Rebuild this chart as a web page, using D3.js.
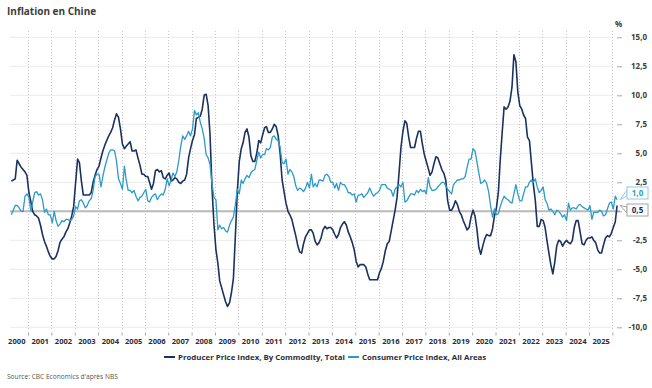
<!DOCTYPE html>
<html>
<head>
<meta charset="utf-8">
<script src="https://cdn.jsdelivr.net/npm/d3@7"></script>
<style>
  body { margin: 0; background: #fff; }
  svg { display: block; font-family: "Open Sans", sans-serif; }
</style>
</head>
<body>
<svg id="chart" width="652" height="388"></svg>
<script>
// monthly YoY %, first value = April 2000, last = March 2026
var startMonth = "2000-04"

var ppi = [
  2.6, 2.7, 2.8, 4.4, 4.1, 3.8, 3.6, 3.4, 3.1,
  1.6, 0.8, 0.0, -0.3, -0.4, -0.6, -1.2, -2.0, -2.6, -3.0, -3.5, -3.9,
  -4.1, -4.1, -3.9, -3.4, -2.7, -2.4, -2.2, -1.8, -1.5, -1.0, -0.4, 0.4,
  2.5, 4.5, 4.2, 2.6, 1.4, 1.4, 1.4, 1.4, 1.6, 2.5, 3.1, 3.6,
  3.9, 4.6, 5.2, 5.7, 6.1, 6.5, 6.8, 7.2, 7.9, 8.4, 8.1, 7.1,
  5.8, 5.4, 5.6, 5.8, 6.0, 5.2, 5.2, 5.3, 4.6, 4.0, 3.2, 3.2,
  3.0, 3.0, 2.5, 1.9, 2.4, 3.5, 3.6, 3.4, 3.5, 2.9, 2.8, 3.1,
  3.3, 2.6, 2.7, 2.9, 2.8, 2.5, 2.4, 2.6, 2.7, 3.2, 4.6, 5.4,
  6.1, 6.6, 8.0, 8.1, 8.2, 8.8, 10.0, 10.1, 9.1, 6.6, 2.0, -1.1,
  -3.3, -4.5, -6.0, -6.6, -7.2, -7.8, -8.2, -7.9, -7.0, -5.8, -2.1, 1.7,
  4.3, 5.4, 5.9, 6.8, 7.1, 6.4, 4.8, 4.3, 4.3, 5.0, 6.1, 5.9,
  6.6, 7.2, 7.3, 6.8, 6.8, 7.1, 7.5, 7.3, 6.5, 5.0, 2.7, 1.7,
  0.7, 0.0, -0.3, -0.7, -1.4, -2.1, -2.9, -3.5, -3.6, -2.8, -2.2, -1.9,
  -1.6, -1.6, -1.9, -2.6, -2.9, -2.7, -2.3, -1.6, -1.3, -1.5, -1.4, -1.4,
  -1.6, -2.0, -2.3, -2.0, -1.4, -1.1, -0.9, -1.2, -1.8, -2.2, -2.7, -3.3,
  -4.3, -4.8, -4.6, -4.6, -4.6, -4.8, -5.4, -5.9, -5.9, -5.9, -5.9, -5.9,
  -5.3, -4.9, -4.3, -3.4, -2.8, -2.6, -1.7, -0.8, 0.1, 1.2, 3.3, 5.5,
  6.9, 7.8, 7.6, 6.4, 5.5, 5.5, 5.5, 6.3, 6.9, 6.9, 5.8, 4.9,
  4.3, 3.7, 3.1, 3.4, 4.1, 4.7, 4.6, 4.1, 3.6, 3.3, 2.7, 0.9,
  0.1, 0.1, 0.4, 0.9, 0.6, 0.0, -0.3, -0.8, -1.2, -1.6, -1.4, -0.5,
  0.1, -0.4, -1.5, -3.1, -3.7, -3.0, -2.4, -2.0, -2.1, -2.1, -1.5, -0.4,
  0.3, 1.7, 4.4, 6.8, 9.0, 8.8, 9.0, 9.5, 10.7, 13.5, 12.9, 10.3,
  9.1, 8.8, 8.3, 8.0, 6.4, 6.1, 4.2, 2.3, 0.9, -1.3, -1.3, -0.7,
  -0.8, -1.4, -2.5, -3.6, -4.6, -5.4, -4.4, -3.0, -2.5, -2.6, -3.0, -2.7,
  -2.5, -2.7, -2.8, -2.5, -1.4, -0.8, -0.8, -1.8, -2.8, -2.9, -2.5, -2.3,
  -2.3, -2.2, -2.5, -2.7, -3.3, -3.6, -3.6, -2.9, -2.3, -2.1, -2.2, -1.9,
  -1.4, -0.9, 0.5
]

var cpi = [
  -0.3, 0.1, 0.5, 0.5, 0.3, 0.0, 0.0, 1.3, 1.5,
  1.2, 0.0, 0.8, 1.6, 1.7, 1.4, 1.5, 1.0, -0.1, 0.2, -0.3, -0.3,
  -1.0, 0.0, -0.8, -1.3, -1.1, -0.8, -0.9, -0.7, -0.7, -0.8, -0.7, -0.4,
  0.4, 0.2, 0.9, 1.0, 0.7, 0.3, 0.5, 0.9, 1.1, 1.8, 3.0, 3.2,
  3.2, 2.1, 3.0, 3.8, 4.4, 5.0, 5.3, 5.3, 5.2, 4.3, 2.8, 2.4,
  1.9, 3.9, 2.7, 1.8, 1.8, 1.6, 1.8, 1.3, 0.9, 1.2, 1.3, 1.6,
  1.9, 0.9, 0.8, 1.2, 1.4, 1.5, 1.0, 1.3, 1.5, 1.4, 1.9, 2.8,
  2.2, 2.7, 3.3, 3.0, 3.4, 4.4, 5.6, 6.5, 6.2, 6.5, 6.9, 6.5,
  7.1, 8.7, 8.3, 8.5, 7.7, 7.1, 6.3, 4.9, 4.6, 4.0, 2.4, 1.2,
  1.0, -1.6, -1.2, -1.5, -1.4, -1.7, -1.8, -1.2, -0.8, -0.5, 0.6, 1.9,
  1.5, 2.7, 2.4, 2.8, 3.1, 2.9, 3.3, 3.5, 3.6, 4.4, 5.1, 4.6,
  4.9, 4.9, 5.4, 5.3, 5.5, 6.4, 6.5, 6.2, 6.1, 5.5, 4.2, 4.1,
  4.5, 3.2, 3.6, 3.4, 3.0, 2.2, 1.8, 2.0, 1.9, 1.7, 2.0, 2.5,
  2.0, 3.2, 2.1, 2.4, 2.1, 2.7, 2.7, 2.6, 3.1, 3.2, 3.0, 2.5,
  2.5, 2.0, 2.4, 1.8, 2.5, 2.3, 2.3, 2.0, 1.6, 1.6, 1.4, 1.5,
  0.8, 1.4, 1.4, 1.5, 1.2, 1.4, 1.6, 2.0, 1.6, 1.3, 1.5, 1.6,
  1.8, 2.3, 2.3, 2.3, 2.0, 1.9, 1.8, 1.3, 1.9, 2.1, 2.3, 2.1,
  2.5, 0.8, 0.9, 1.2, 1.5, 1.5, 1.4, 1.8, 1.6, 1.9, 1.7, 1.8,
  1.5, 2.9, 2.1, 1.8, 1.8, 1.9, 2.1, 2.3, 2.5, 2.5, 2.2, 1.9,
  1.7, 1.5, 2.3, 2.5, 2.7, 2.7, 2.8, 2.8, 3.0, 3.8, 4.5, 4.5,
  5.4, 5.2, 4.3, 3.3, 2.4, 2.5, 2.7, 2.4, 1.7, 0.5, -0.5, 0.2,
  -0.3, -0.2, 0.4, 0.9, 1.3, 1.1, 1.0, 0.8, 0.7, 1.5, 2.3, 1.5,
  0.9, 0.9, 1.5, 2.1, 2.1, 2.5, 2.7, 2.5, 2.8, 2.1, 1.6, 1.8,
  2.1, 1.0, 0.7, 0.1, 0.2, 0.0, -0.3, 0.1, 0.0, -0.2, -0.5, -0.3,
  -0.8, 0.7, 0.1, 0.3, 0.3, 0.2, 0.5, 0.6, 0.4, 0.3, 0.2, 0.1,
  0.5, -0.7, -0.1, -0.1, -0.1, 0.1, 0.0, -0.4, -0.3, 0.2, 0.7, 0.8,
  0.2, 1.3, 1.0
]

var yTicks = [-10, -7.5, -5, -2.5, 0, 2.5, 5, 7.5, 10, 12.5, 15]
var yearLabels = d3.range(2000, 2026)
var seriesNames = ["Producer Price Index, By Commodity, Total", "Consumer Price Index, All Areas"]
var seriesColors = ["#1b3160", "#2b9bc9"]
var labelBorders = ["#a3a3a3", "#8ccbe6"]

var svg = d3.select("#chart")
var fr = d3.formatLocale({ decimal: ",", thousands: " ", grouping: [3], currency: ["", " €"], minus: "-" })
var fmt = fr.format(".1f")

var start = d3.timeParse("%Y-%m")(startMonth)
function toPoints(values) {
  return values.map(function(v, i) {
    return { date: d3.timeDay.offset(d3.timeMonth.offset(start, i), 14), value: v }
  })
}
var series = [toPoints(ppi), toPoints(cpi)]

var x = d3.scaleTime()
  .domain([new Date(2000, 0, 1), new Date(2026, 0, 1)])
  .range([4.6, 612.4])
var y = d3.scaleLinear().domain([-10, 15]).range([327.3, 37.3])

// title
svg.append("text")
  .attr("x", 7).attr("y", 14.5)
  .attr("font-size", 10).attr("font-weight", 700)
  .attr("fill", "#3d3d3d")
  .text("Inflation en Chine")

// horizontal grid
svg.append("g").selectAll("line")
  .data(yTicks.filter(function(t) { return t !== 0 }))
  .join("line")
  .attr("x1", 10).attr("x2", 613)
  .attr("y1", function(d) { return y(d) }).attr("y2", function(d) { return y(d) })
  .attr("stroke", "#ebebeb").attr("stroke-width", 1)

// vertical dotted year lines
var yearBounds = d3.range(2001, 2027).map(function(yr) { return new Date(yr, 0, 1) })
svg.append("g").selectAll("line")
  .data(yearBounds)
  .join("line")
  .attr("x1", function(d) { return Math.round(x(d)) + 0.5 }).attr("x2", function(d) { return Math.round(x(d)) + 0.5 })
  .attr("y1", 31).attr("y2", 330)
  .attr("stroke", "#c6c6c6").attr("stroke-width", 1)
  .attr("stroke-dasharray", "1,2")

// zero line
svg.append("line")
  .attr("x1", 10).attr("x2", 620)
  .attr("y1", y(0)).attr("y2", y(0))
  .attr("stroke", "#b9b9b9").attr("stroke-width", 2)

// y axis on the right (0,0 sits under the last-value box, so no label there)
var yAxis = svg.append("g")
  .attr("transform", "translate(617,0)")
  .call(d3.axisRight(y).tickValues(yTicks).tickSize(5)
    .tickFormat(function(d) { return d === 0 ? "" : fmt(d) }))
yAxis.select(".domain").remove()
yAxis.selectAll(".tick line").attr("stroke", "#a8a8a8")
yAxis.selectAll(".tick text")
  .attr("x", 30).attr("text-anchor", "end")
  .attr("font-family", "Open Sans").attr("font-size", 8).attr("font-weight", 700)
  .attr("fill", "#3d3d3d")

svg.append("text")
  .attr("x", 618.5).attr("y", 26.5)
  .attr("text-anchor", "middle")
  .attr("font-size", 8).attr("font-weight", 700).attr("fill", "#3d3d3d")
  .text("%")

// x axis: ticks at year boundaries, labels mid-year
var xTickAxis = svg.append("g")
  .attr("transform", "translate(0,332.5)")
  .call(d3.axisBottom(x).tickValues(yearBounds).tickSize(3).tickFormat(""))
xTickAxis.select(".domain").remove()
xTickAxis.selectAll(".tick line").attr("stroke", "#a8a8a8")

var xLabelAxis = svg.append("g")
  .attr("transform", "translate(0,334)")
  .call(d3.axisBottom(x)
    .tickValues(yearLabels.map(function(yr) { return new Date(yr, 6, 2) }))
    .tickSize(0)
    .tickFormat(d3.timeFormat("%Y")))
xLabelAxis.select(".domain").remove()
xLabelAxis.selectAll(".tick text")
  .attr("dy", "0.71em").attr("y", 5)
  .attr("font-family", "Open Sans").attr("font-size", 7.6).attr("font-weight", 700)
  .attr("fill", "#2d2d3a")

// lines
var line = d3.line()
  .x(function(d) { return x(d.date) })
  .y(function(d) { return y(d.value) })

svg.append("g").selectAll("path")
  .data(series)
  .join("path")
  .attr("d", line)
  .attr("fill", "none")
  .attr("stroke", function(d, i) { return seriesColors[i] })
  .attr("stroke-width", function(d, i) { return i == 0 ? 1.6 : 1.3 })
  .attr("stroke-linejoin", "round")

// last value labels
var lastLabels = [
  { value: ppi[ppi.length - 1], boxY: 204, color: seriesColors[0], border: labelBorders[0] },
  { value: cpi[cpi.length - 1], boxY: 187, color: seriesColors[1], border: labelBorders[1] }
]
var lastX = x(series[0][series[0].length - 1].date)
var lbl = svg.append("g").selectAll("g")
  .data(lastLabels)
  .join("g")

lbl.append("path")
  .attr("d", function(d) {
    var py = y(d.value)
    var mid = d.boxY + 6
    return "M" + (lastX + 3) + "," + py + "L627," + (mid - 3) + "L627," + (mid + 3) + "Z"
  })
  .attr("fill", "#fff")
  .attr("stroke", function(d) { return d.border })
  .attr("stroke-width", 1)

lbl.append("rect")
  .attr("x", 627).attr("y", function(d) { return d.boxY })
  .attr("width", 21).attr("height", 12)
  .attr("fill", "#fff")
  .attr("stroke", function(d) { return d.border })
  .attr("stroke-width", 1)

lbl.append("text")
  .attr("x", 637.5).attr("y", function(d) { return d.boxY + 6 })
  .attr("dy", "0.35em").attr("text-anchor", "middle")
  .attr("font-size", 8).attr("font-weight", 700)
  .attr("fill", function(d) { return d.color })
  .text(function(d) { return fmt(d.value) })

// legend
var legend = svg.append("g").attr("transform", "translate(0,357)")
var legendX = [164, 348]
seriesNames.forEach(function(name, i) {
  var g = legend.append("g").attr("transform", "translate(" + legendX[i] + ",0)")
  g.append("line")
    .attr("x1", 0).attr("x2", 11)
    .attr("stroke", seriesColors[i]).attr("stroke-width", 2)
  g.append("text")
    .attr("x", 14).attr("dy", "0.35em")
    .attr("font-size", 7.85).attr("font-weight", 700).attr("fill", "#2d2d3a")
    .text(name)
})

// source
svg.append("text")
  .attr("x", 7).attr("y", 379)
  .attr("font-size", 6.6).attr("fill", "#555")
  .text("Source: CBC Economics d'après NBS")
</script>
</body>
</html>
